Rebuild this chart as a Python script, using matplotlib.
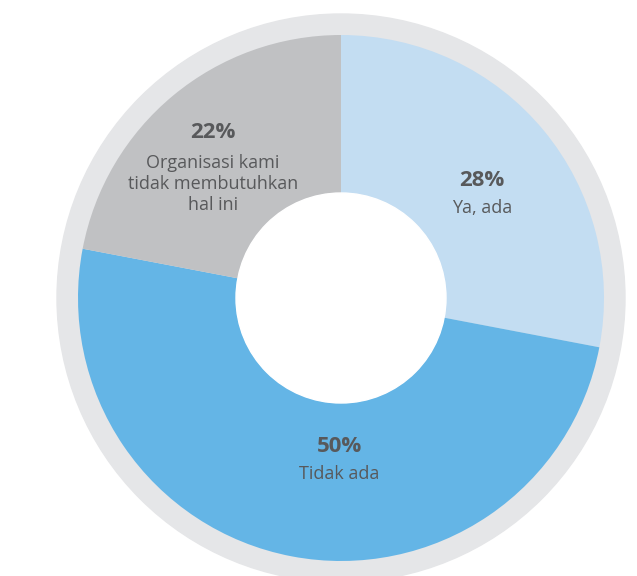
import matplotlib.pyplot as plt
from matplotlib.patches import Circle

categories = ["Ya, ada", "Tidak ada", "Organisasi kami\ntidak membutuhkan\nhal ini"]
values = [28, 50, 22]
pct_labels = ["28%", "50%", "22%"]
colors = ["#c3ddf2", "#64b5e6", "#c0c1c3"]

W, H = 637, 576
fig = plt.figure(figsize=(W / 100, H / 100), dpi=100)
ax = fig.add_axes([0, 0, 1, 1])

cx, cy = 341, H - 298
ring = Circle((cx, cy), 284, color="#e5e6e8", zorder=0)
ax.add_patch(ring)
R = 263
hole = 105
ax.pie(values, colors=colors, startangle=90, counterclock=False, center=(cx, cy),
       radius=R, wedgeprops=dict(width=R - hole, linewidth=0), frame=True)
ax.add_patch(Circle((cx, cy), hole, color="white", zorder=3))
ax.set_xlim(0, W)
ax.set_ylim(0, H)
ax.set_aspect("equal")
ax.axis("off")

txt = "#58595b"
font = "Open Sans"
label_pos = [(482, 180, 208), (339, 446, 474), (213, 133, 184)]
for (x, yp, yl), p, c in zip(label_pos, pct_labels, categories):
    ax.text(x, H - yp, p, ha="center", va="center", fontsize=16, fontweight="bold",
            color=txt, family=font, zorder=5)
    ax.text(x, H - yl, c, ha="center", va="center", fontsize=13, color=txt,
            family=font, linespacing=1.2, zorder=5)

fig.savefig("out.png", dpi=100)
